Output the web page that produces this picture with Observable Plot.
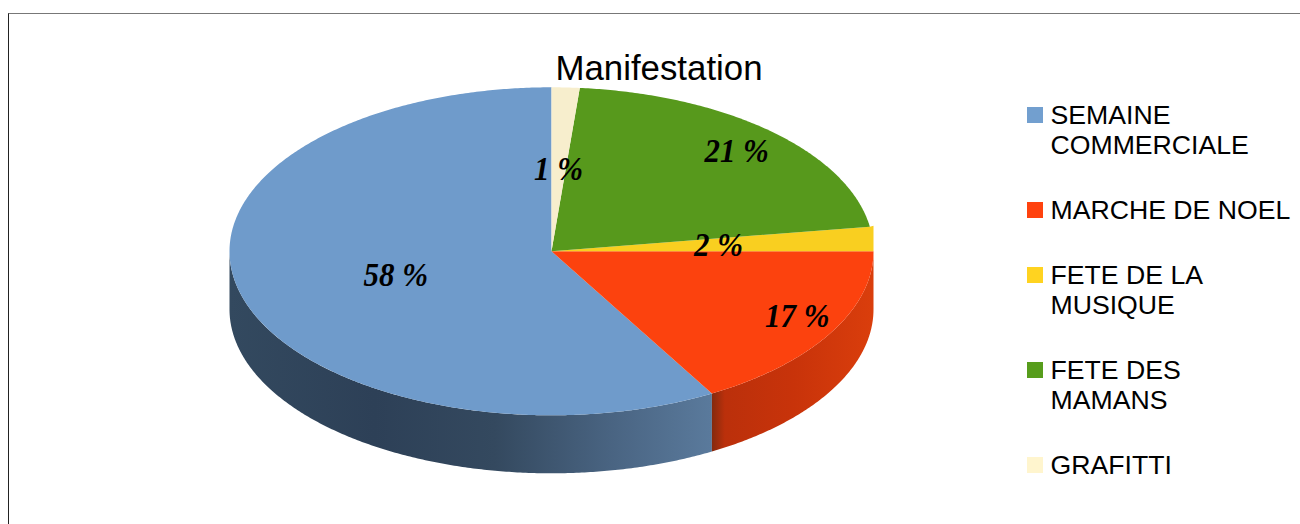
<!DOCTYPE html>
<html lang="fr">
<head>
<meta charset="utf-8">
<title>Manifestation</title>
<script src="https://cdn.jsdelivr.net/npm/d3@7"></script>
<script src="https://cdn.jsdelivr.net/npm/@observablehq/plot@0.6"></script>
<style>
  html, body { margin: 0; padding: 0; background: #fff; width: 1300px; height: 524px; overflow: hidden; }
  #chart { position: relative; width: 1300px; height: 524px; font-family: "Liberation Sans", Arial, sans-serif; color: #000; }
  #chart svg { position: absolute; left: 0; top: 0; }
  #frame { position: absolute; left: 8px; top: 13px; right: 0; bottom: 0; border-left: 1px solid #222; border-top: 1.5px solid #777; }
  #title { position: absolute; left: 459px; width: 400px; top: 48px; text-align: center; font-size: 34.8px; line-height: 40px; }
  #legend { position: absolute; left: 1027px; top: 100px; width: 273px; font-size: 26.65px; line-height: 30px; }
  .item { position: absolute; left: 0; display: flex; align-items: flex-start; white-space: pre-line; }
  .swatch { width: 16px; height: 16px; margin: 7px 7.5px 0 0; flex: none; }
</style>
</head>
<body>
<div id="chart">
  <div id="frame"></div>
</div>
<script>
const categories = ["SEMAINE\nCOMMERCIALE", "MARCHE DE NOEL", "FETE DE LA\nMUSIQUE", "FETE DES\nMAMANS", "GRAFITTI"];
const values = [58.3, 16.7, 2.4, 21.2, 1.4];
const sliceColors = ["#6f9bcb", "#fc420e", "#f9cf20", "#57991c", "#f7eecd"];
const legendColors = ["#729fcf", "#ff420e", "#ffd320", "#579d1c", "#fff5ce"];
const labelRadius = [0.505, 0.86, 0.52, 0.84, 0.5];
const labelTurnDeg = [-1.8, -2.6, 0, 0, 0];
const chartTitle = "Manifestation";

const width = 1300, height = 524;
const cx = 551, cy = 250.8, rx = 322, ry = 164, depthPx = 58;
const depth = depthPx / ry;
const total = d3.sum(values);

// Slices run counter-clockwise from the top, beginning with the first category.
let acc = 0;
const slices = values.map((v, i) => {
  const end = -acc / total * 2 * Math.PI;
  acc += v;
  const start = -acc / total * 2 * Math.PI;
  return {name: categories[i], value: v, a0: start, a1: end, color: sliceColors[i],
          radius: labelRadius[i], turn: labelTurnDeg[i] * Math.PI / 180};
});

function arcPts(a0, a1, z) {
  const n = Math.max(2, Math.ceil(Math.abs(a1 - a0) / (Math.PI / 360)));
  return d3.range(n + 1).map(k => {
    const a = a0 + (a1 - a0) * k / n;
    return {u: Math.sin(a), v: Math.cos(a) - z};
  });
}
const wedge = s => [{u: 0, v: 0}, ...arcPts(s.a0, s.a1, 0), {u: 0, v: 0}];
const wall = (a0, a1) => [...arcPts(a0, a1, 0), ...arcPts(a1, a0, depth)];

// The yellow sliver keeps the squared outer corner seen in the picture.
const squared = s => [{u: 0, v: 0}, {u: 1, v: 0}, {u: 1, v: Math.cos(s.a0) + 0.005}, {u: Math.sin(s.a0), v: Math.cos(s.a0)}, {u: 0, v: 0}];

const defs = () => {
  const d = d3.create("svg:defs");
  const grad = (id, stops) => {
    const g = d.append("linearGradient").attr("id", id).attr("x1", 0).attr("x2", 1).attr("y1", 0).attr("y2", 0);
    stops.forEach(([o, c]) => g.append("stop").attr("offset", o).attr("stop-color", c));
  };
  grad("blueSide", [[0, "#33495f"], [0.3, "#2d4057"], [0.55, "#34495f"], [0.8, "#4a6583"], [1, "#5a7a9c"]]);
  grad("redSide", [[0, "#842a0e"], [0.08, "#bb300b"], [0.5, "#c8330a"], [1, "#da3e0c"]]);
  return d.node();
};

const [blue, red] = slices;
const sideBlue = wall(-Math.PI / 2, blue.a0);
const sideRed = wall(red.a1, red.a0);

const labels = slices.map(s => {
  const mid = (s.a0 + s.a1) / 2 + s.turn;
  return {u: Math.sin(mid) * s.radius, v: Math.cos(mid) * s.radius, text: `${Math.round(s.value)} %`};
});

const plot = Plot.plot({
  width, height,
  margin: 0,
  x: {axis: null, domain: [-cx / rx, (width - cx) / rx], range: [0, width]},
  y: {axis: null, domain: [(cy - height) / ry, cy / ry], range: [height, 0]},
  marks: [
    defs,
    Plot.line(sideBlue, {x: "u", y: "v", fill: "url(#blueSide)", stroke: "none", curve: "linear"}),
    Plot.line(sideRed, {x: "u", y: "v", fill: "url(#redSide)", stroke: "none", curve: "linear"}),
    ...slices.map((s, i) => Plot.line(i === 2 ? squared(s) : wedge(s), {x: "u", y: "v", fill: s.color, stroke: "none", curve: "linear"})),
    Plot.text(labels, {
      x: "u", y: "v", text: "text", className: "pct",
      fontFamily: "Liberation Serif", fontWeight: "bold", fontStyle: "italic",
      fontSize: 34, fill: "#000", textAnchor: "middle"
    })
  ]
});
const chart = document.getElementById("chart");
chart.appendChild(plot);

// The percentage labels are set slightly condensed in the picture.
plot.querySelectorAll(".pct text").forEach(t => {
  t.setAttribute("lengthAdjust", "spacingAndGlyphs");
  t.setAttribute("textLength", t.getComputedTextLength() * 0.91);
});

const title = document.createElement("div");
title.id = "title";
title.textContent = chartTitle;
chart.appendChild(title);

const legend = document.createElement("div");
legend.id = "legend";
const rowTops = [0, 95, 160, 255, 350];
categories.forEach((c, i) => {
  const row = document.createElement("div");
  row.className = "item";
  row.style.top = rowTops[i] + "px";
  const sw = document.createElement("span");
  sw.className = "swatch";
  sw.style.background = legendColors[i];
  const tx = document.createElement("span");
  tx.textContent = c;
  row.append(sw, tx);
  legend.appendChild(row);
});
chart.appendChild(legend);
</script>
</body>
</html>
